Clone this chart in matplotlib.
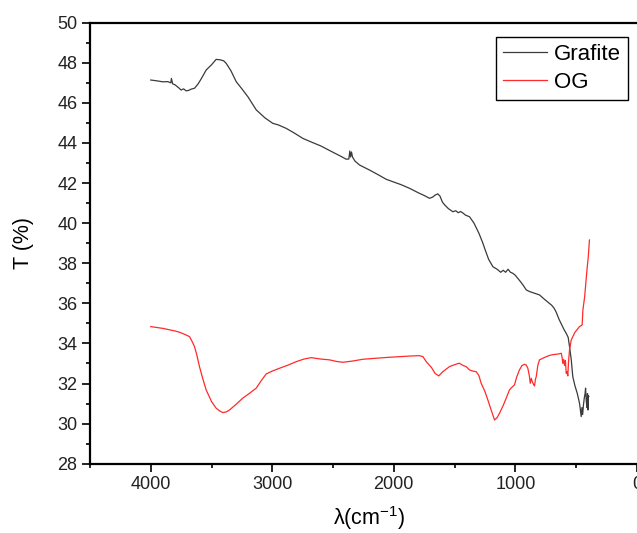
import matplotlib
matplotlib.use("Agg")
import matplotlib.pyplot as plt
from matplotlib.ticker import MultipleLocator

plt.rcParams['font.family'] = ['Liberation Sans', 'DejaVu Sans']
plt.rcParams['mathtext.fontset'] = 'custom'
plt.rcParams['mathtext.rm'] = 'Liberation Sans'
plt.rcParams['mathtext.it'] = 'Liberation Sans:italic'

# Wavenumber (cm^-1) and transmittance (%)
grafite_x = [4000, 3950, 3900, 3860, 3835, 3830, 3820, 3800, 3770, 3750, 3730, 3709, 3690,
             3670, 3640, 3610, 3580, 3544, 3500, 3462, 3430, 3400, 3379, 3340, 3297, 3250,
             3200, 3132, 3060, 2996, 2950, 2886, 2820, 2749, 2680, 2600, 2502, 2440, 2392,
             2370, 2362, 2356, 2348, 2340, 2320, 2282, 2200, 2130, 2063, 2000, 1940, 1871,
             1800, 1750, 1706, 1680, 1660, 1638, 1620, 1600, 1580, 1550, 1514, 1490, 1470,
             1450, 1430, 1410, 1377, 1340, 1300, 1270, 1250, 1220, 1185, 1150, 1120, 1100,
             1080, 1060, 1040, 1021, 1000, 980, 960, 935, 910, 880, 850, 801, 760, 720,
             700, 680, 663, 640, 620, 600, 581, 565, 554, 540, 527, 510, 490, 472, 465,
             458, 452, 446, 440, 432, 426, 422, 416, 410, 406, 403, 399, 395]
grafite_y = [47.14, 47.10, 47.05, 47.06, 47.00, 47.22, 46.95, 46.90, 46.75, 46.64, 46.70, 46.60, 46.62,
             46.68, 46.73, 46.95, 47.25, 47.64, 47.90, 48.17, 48.15, 48.10, 47.97, 47.60, 47.06, 46.70,
             46.30, 45.65, 45.25, 44.98, 44.90, 44.73, 44.50, 44.23, 44.05, 43.85, 43.54, 43.35, 43.19,
             43.20, 43.60, 43.30, 43.55, 43.30, 43.10, 42.90, 42.65, 42.42, 42.19, 42.05, 41.92, 41.74,
             41.52, 41.38, 41.24, 41.30, 41.40, 41.46, 41.35, 41.05, 40.90, 40.72, 40.57, 40.62, 40.52,
             40.58, 40.50, 40.40, 40.32, 40.00, 39.50, 39.05, 38.70, 38.20, 37.83, 37.70, 37.55, 37.65,
             37.55, 37.70, 37.55, 37.50, 37.40, 37.25, 37.10, 36.90, 36.67, 36.58, 36.52, 36.42, 36.20, 36.00,
             35.90, 35.75, 35.55, 35.20, 34.95, 34.70, 34.50, 34.30, 33.84, 33.20, 32.34, 31.90, 31.50, 31.02, 30.70,
             30.35, 30.80, 30.45, 30.90, 31.30, 31.50, 31.77, 31.10, 30.80, 31.50, 30.68, 31.40, 31.35]

og_x = [4000, 3900, 3800, 3764, 3720, 3681, 3660, 3640, 3620, 3599, 3570, 3544, 3500, 3462,
        3430, 3407, 3380, 3352, 3300, 3243, 3190, 3132, 3090, 3050, 3000, 2941, 2870, 2803,
        2740, 2680, 2600, 2529, 2470, 2420, 2340, 2255, 2150, 2035, 1950, 1870, 1789, 1760,
        1733, 1690, 1660, 1630, 1597, 1540, 1480, 1459, 1430, 1404, 1377, 1350, 1322, 1300,
        1281, 1250, 1226, 1200, 1171, 1150, 1130, 1100, 1075, 1060, 1048, 1030, 1007, 990,
        966, 945, 924, 910, 897, 885, 877, 869, 861, 850, 842, 835, 828, 815, 801, 760,
        720, 690, 663, 640, 622, 615, 609, 602, 595, 588, 581, 575, 568, 562, 554, 540,
        510, 472, 450, 444, 430, 420, 410, 400, 390]
og_y = [34.84, 34.75, 34.62, 34.56, 34.45, 34.34, 34.10, 33.84, 33.40, 32.84, 32.20, 31.68, 31.10, 30.77,
        30.62, 30.55, 30.58, 30.68, 30.95, 31.27, 31.50, 31.77, 32.15, 32.48, 32.62, 32.76, 32.92, 33.09,
        33.22, 33.29, 33.22, 33.18, 33.10, 33.06, 33.12, 33.21, 33.26, 33.31, 33.34, 33.37, 33.39, 33.34,
        33.09, 32.80, 32.50, 32.38, 32.59, 32.85, 32.98, 33.01, 32.90, 32.84, 32.68, 32.62, 32.59, 32.40,
        32.01, 31.60, 31.18, 30.70, 30.18, 30.30, 30.52, 30.90, 31.27, 31.50, 31.68, 31.80, 31.93, 32.30,
        32.68, 32.90, 32.96, 32.92, 32.76, 32.40, 32.01, 32.26, 32.10, 31.95, 31.88, 32.20, 32.34, 32.90,
        33.18, 33.30, 33.40, 33.44, 33.46, 33.48, 33.51, 33.30, 33.00, 33.20, 32.90, 33.15, 32.51, 32.60,
        32.38, 33.10, 33.68, 34.17, 34.55, 34.84, 34.92, 35.67, 36.30, 37.00, 37.70, 38.30, 39.16]

series_labels = ["Grafite", "OG"]

fig = plt.figure(figsize=(6.37, 5.33), dpi=100)
ax = fig.add_axes([90/637, 1 - 463.7/533, (649 - 90)/637, (463.7 - 22.7)/533])

ax.plot(grafite_x, grafite_y, color='#3a3a3a', lw=0.9, label=series_labels[0])
ax.plot(og_x, og_y, color='#ff2a2a', lw=0.9, label=series_labels[1])

ax.set_xlim(4500, -100)
ax.set_ylim(28, 50)
ax.xaxis.set_major_locator(MultipleLocator(1000))
ax.xaxis.set_minor_locator(MultipleLocator(500))
ax.yaxis.set_major_locator(MultipleLocator(2))
ax.yaxis.set_minor_locator(MultipleLocator(1))

for s in ['left', 'top', 'bottom', 'right']:
    ax.spines[s].set_linewidth(1.6)
ax.tick_params(which='major', direction='out', length=6, width=1.2, labelsize=13,
               colors='black', pad=3)
ax.tick_params(which='minor', direction='out', length=3, width=1.2)
ax.tick_params(axis='both', top=False, right=False)
for lbl in ax.get_xticklabels() + ax.get_yticklabels():
    lbl.set_color('#222222')

ax.set_ylabel('T (%)', fontsize=15.5, labelpad=17)
ax.set_xlabel('λ(cm$^{-1}$)', fontsize=15.5, labelpad=7.5)

leg = ax.legend(loc='upper right', bbox_to_anchor=(628/637, 1 - 37/533),
                bbox_transform=fig.transFigure, borderaxespad=0, fontsize=16,
                fancybox=False, framealpha=1, edgecolor='black', handlelength=2.0,
                handletextpad=0.32, borderpad=0.3, labelspacing=0.33)
leg.get_frame().set_linewidth(1.0)

fig.savefig('out.png', dpi=100)
